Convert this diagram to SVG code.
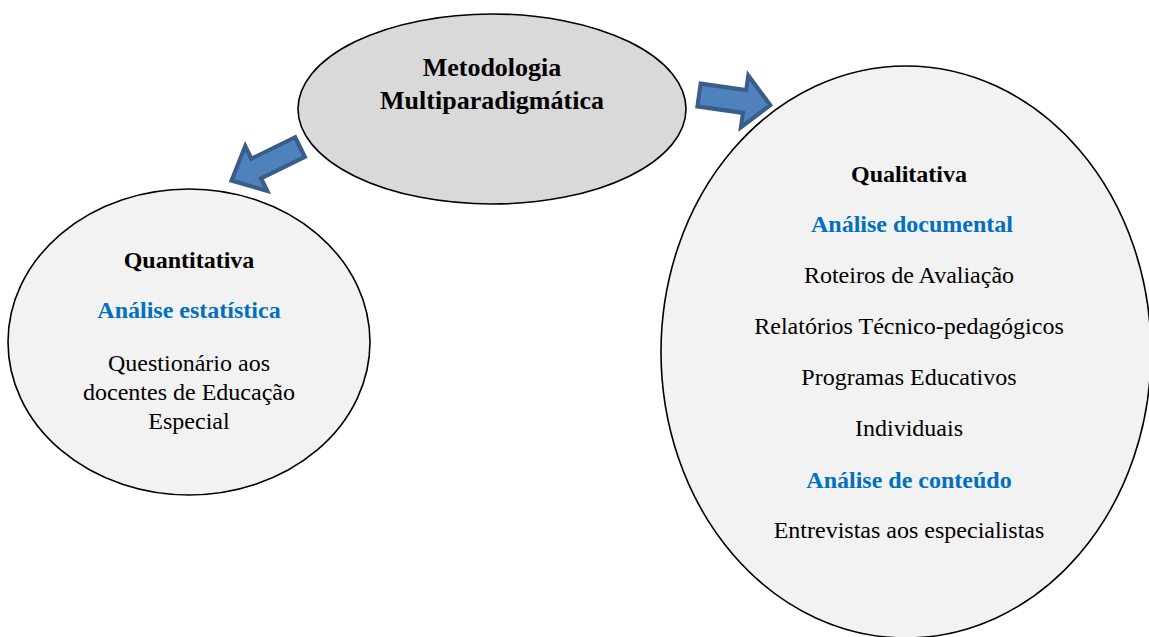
<svg xmlns="http://www.w3.org/2000/svg" width="1149" height="637" viewBox="0 0 1149 637">
<style>
.node{stroke:#000;stroke-width:1.6}
.t{font-family:'Liberation Serif','Tinos','Times New Roman','DejaVu Serif','Noto Serif',serif;font-size:24px;text-anchor:middle;fill:#000}
.b{font-weight:bold}
.blue{fill:#0070c0}
.big{font-size:26px}
.arrow{fill:#4f81bd;stroke:#385d8a;stroke-width:4;stroke-linejoin:miter}
</style>
<defs>
<polygon id="blockArrow" points="0,-11 46,-11 46,-25 72,0 46,25 46,11 0,11"/>
</defs>
<rect width="1149" height="637" fill="#fff"/>
<g id="connectors">
<use href="#blockArrow" class="arrow" transform="translate(300,147) rotate(153.8) scale(1.06,1)"/>
<use href="#blockArrow" class="arrow" transform="translate(699,95) rotate(8.1) scale(1.0,1.05)"/>
</g>
<g id="node-metodologia">
<ellipse class="node" cx="492" cy="109" rx="194" ry="95" fill="#d9d9d9"/>
<text class="t b big" x="492" y="76">Metodologia</text>
<text class="t b big" x="492" y="109">Multiparadigmática</text>
</g>
<g id="node-quantitativa">
<ellipse class="node" cx="189" cy="342" rx="181" ry="153" fill="#f2f2f2"/>
<text class="t b" x="189" y="268">Quantitativa</text>
<text class="t b blue" x="189" y="318">Análise estatística</text>
<text class="t" x="189" y="371">Questionário aos</text>
<text class="t" x="189" y="400">docentes de Educação</text>
<text class="t" x="189" y="429">Especial</text>
</g>
<g id="node-qualitativa">
<ellipse class="node" cx="906" cy="352" rx="245" ry="286" fill="#f2f2f2"/>
<text class="t b" x="909" y="182">Qualitativa</text>
<text class="t b blue" x="912" y="232">Análise documental</text>
<text class="t" x="909" y="283">Roteiros de Avaliação</text>
<text class="t" x="909" y="334">Relatórios Técnico-pedagógicos</text>
<text class="t" x="909" y="385">Programas Educativos</text>
<text class="t" x="909" y="436">Individuais</text>
<text class="t b blue" x="909" y="488">Análise de conteúdo</text>
<text class="t" x="909" y="538">Entrevistas aos especialistas</text>
</g>
</svg>
